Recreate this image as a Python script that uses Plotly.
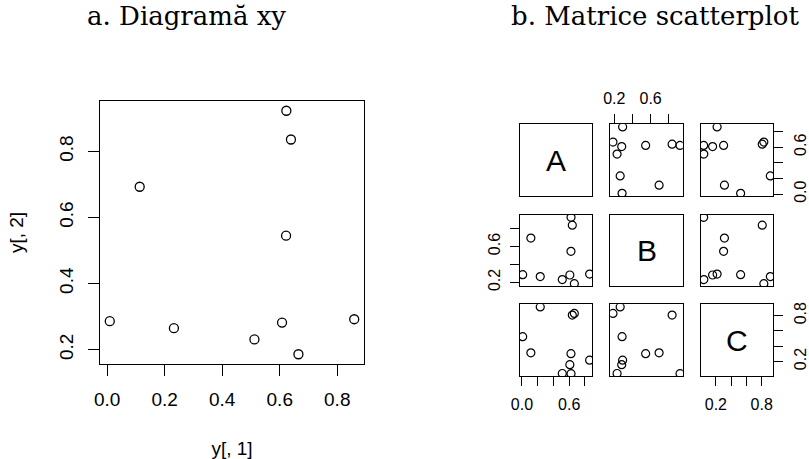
import plotly.graph_objects as go

W, H = 809, 459

# Three observed variables (10 observations each)
A = [0.623, 0.639, 0.113, 0.622, 0.009, 0.232, 0.512, 0.608, 0.665, 0.859]
B = [0.923, 0.836, 0.693, 0.545, 0.286, 0.265, 0.231, 0.282, 0.186, 0.292]
C = [0.040, 0.807, 0.312, 0.301, 0.524, 0.913, 0.042, 0.157, 0.828, 0.216]

names = ["A", "B", "C"]
data = {"A": A, "B": B, "C": C}

# tick positions / labels
main_xticks = [0.0, 0.2, 0.4, 0.6, 0.8]
main_yticks = [0.2, 0.4, 0.6, 0.8]
tick_vals = {"A": [0.0, 0.2, 0.4, 0.6, 0.8], "B": [0.2, 0.4, 0.6, 0.8], "C": [0.2, 0.4, 0.6, 0.8]}
tick_text = {"A": ["0.0", "", "", "0.6", ""], "B": ["0.2", "", "0.6", ""], "C": ["0.2", "", "", "0.8"]}

titles = ["a. Diagramă xy", "b. Matrice scatterplot"]


def rng(v, pad=0.04):
    lo, hi = min(v), max(v)
    d = (hi - lo) * pad
    return [lo - d, hi + d]


def dx(a, b):
    return [a / W, b / W]


def dy(top, bottom):
    return [1 - bottom / H, 1 - top / H]


SANS = "Liberation Sans, Arial, sans-serif"
line_style = dict(showline=True, linecolor="black", linewidth=1, mirror=True,
                  showgrid=False, zeroline=False, tickcolor="black", tickwidth=1)

fig = go.Figure()

# ---- panel a: simple xy plot ----
fig.add_trace(go.Scatter(
    x=A, y=B, mode="markers", xaxis="x", yaxis="y", showlegend=False,
    marker=dict(symbol="circle-open", size=9, color="black", line=dict(width=1.3)),
))

layout = dict(
    width=W, height=H, margin=dict(l=0, r=0, t=0, b=0),
    paper_bgcolor="white", plot_bgcolor="white", showlegend=False,
    xaxis=dict(domain=dx(100, 364), range=rng(A), anchor="y", ticks="outside", ticklen=11,
               tickvals=main_xticks, ticktext=[f"{v:.1f}" for v in main_xticks],
               tickfont=dict(family=SANS, size=19, color="black"), ticklabelstandoff=7,
               title=dict(text="y[, 1]", font=dict(family=SANS, size=19, color="black"), standoff=33),
               automargin=False, **line_style),
    yaxis=dict(domain=dy(101, 364), range=rng(B), anchor="x", ticks="outside", ticklen=11,
               tickvals=main_yticks, ticktext=[f"{v:.1f}" for v in main_yticks], tickangle=-90,
               tickfont=dict(family=SANS, size=19, color="black"), ticklabelstandoff=7,
               title=dict(text="y[, 2]", font=dict(family=SANS, size=19, color="black"), standoff=27),
               automargin=False, **line_style),
)

# ---- panel b: scatterplot matrix ----
col_px = [(520, 592.3), (610.3, 682.7), (701, 773)]
row_px = [(124.3, 196), (214.7, 286.3), (304.3, 376.3)]

annotations = []
for i, yn in enumerate(names):
    for j, xn in enumerate(names):
        k = i * 3 + j + 2
        xa = dict(domain=dx(*col_px[j]), range=rng(data[xn]), anchor=f"y{k}",
                  showticklabels=False, ticks="", automargin=False, **line_style)
        ya = dict(domain=dy(*row_px[i]), range=rng(data[yn]), anchor=f"x{k}",
                  showticklabels=False, ticks="", automargin=False, **line_style)
        tick_common = dict(ticks="outside", ticklen=9, showticklabels=True, ticklabelstandoff=4,
                           tickfont=dict(family=SANS, size=16, color="black"))
        # R-style alternating axes around the matrix
        if i == 0 and j % 2 == 1:
            xa.update(side="top", tickvals=tick_vals[xn], ticktext=tick_text[xn], **tick_common)
        if i == 2 and j % 2 == 0:
            xa.update(side="bottom", tickvals=tick_vals[xn], ticktext=tick_text[xn], **tick_common)
        if j == 0 and i % 2 == 1:
            ya.update(side="left", tickvals=tick_vals[yn], ticktext=tick_text[yn], tickangle=-90, **tick_common)
        if j == 2 and i % 2 == 0:
            ya.update(side="right", tickvals=tick_vals[yn], ticktext=tick_text[yn], tickangle=-90, **tick_common)
        layout[f"xaxis{k}"] = xa
        layout[f"yaxis{k}"] = ya
        if i == j:
            fig.add_trace(go.Scatter(x=[], y=[], xaxis=f"x{k}", yaxis=f"y{k}", showlegend=False))
            annotations.append(dict(text=xn, xref=f"x{k} domain", yref=f"y{k} domain",
                                    x=0.5, y=0.5, showarrow=False,
                                    font=dict(family=SANS, size=30, color="black")))
        else:
            fig.add_trace(go.Scatter(
                x=data[xn], y=data[yn], mode="markers", xaxis=f"x{k}", yaxis=f"y{k}", showlegend=False,
                marker=dict(symbol="circle-open", size=8, color="black", line=dict(width=1.2)),
            ))

# panel titles
SERIF = "DejaVu Serif, Liberation Serif, serif"
for text, cx in zip(titles, [186, 655]):
    annotations.append(dict(text=text, xref="paper", yref="paper", x=cx / W, y=1 - 16 / H,
                            xanchor="center", yanchor="middle", showarrow=False,
                            font=dict(family=SERIF, size=26, color="black")))

layout["annotations"] = annotations
fig.update_layout(**layout)
fig.write_html("out.html")
